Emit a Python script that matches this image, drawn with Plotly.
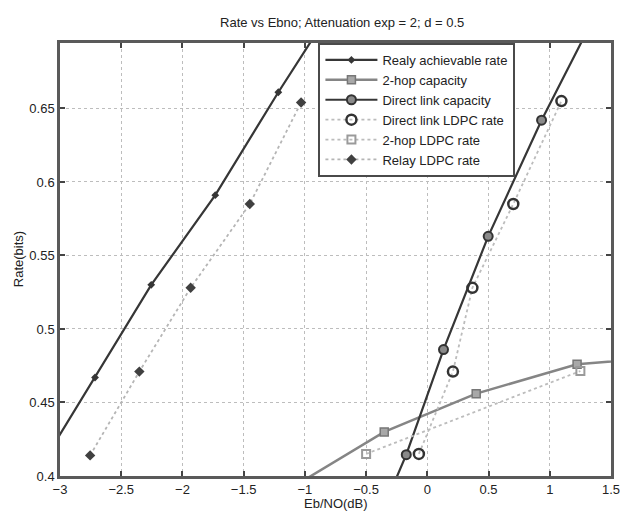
import plotly.graph_objects as go

# ---- data ----
relay_ach_x = [-3.2, -2.714, -2.255, -1.732, -1.217, -0.70]
relay_ach_y = [0.401, 0.467, 0.530, 0.591, 0.661, 0.728]

twohop_cap_x = [-1.05, -0.352, 0.399, 1.223, 2.1]
twohop_cap_y = [0.395, 0.430, 0.456, 0.476, 0.482]

direct_cap_x = [-0.40, -0.172, 0.132, 0.497, 0.933, 1.35]
direct_cap_y = [0.370, 0.4145, 0.486, 0.563, 0.642, 0.710]

direct_ldpc_x = [-0.069, 0.209, 0.368, 0.702, 1.095]
direct_ldpc_y = [0.415, 0.471, 0.528, 0.585, 0.655]

twohop_ldpc_x = [-0.50, 1.25]
twohop_ldpc_y = [0.415, 0.4714]

relay_ldpc_x = [-2.754, -2.352, -1.933, -1.450, -1.031]
relay_ldpc_y = [0.414, 0.471, 0.528, 0.585, 0.654]

x_ticks = [-3, -2.5, -2, -1.5, -1, -0.5, 0, 0.5, 1, 1.5]
x_tick_text = ["\u22123", "\u22122.5", "\u22122", "\u22121.5", "\u22121", "\u22120.5", "0", "0.5", "1", "1.5"]
y_ticks = [0.4, 0.45, 0.5, 0.55, 0.6, 0.65]
y_tick_text = ["0.4", "0.45", "0.5", "0.55", "0.6", "0.65"]

title_text = "Rate vs Ebno; Attenuation exp = 2; d = 0.5"
x_title = "Eb/NO(dB)"
y_title = "Rate(bits)"

FONT = "Liberation Sans, Arial, Helvetica"
TXT = "#222222"

fig = go.Figure()

fig.add_trace(go.Scatter(
    x=relay_ach_x, y=relay_ach_y, mode="lines+markers", name="Realy achievable rate",
    line=dict(color="#363636", width=2.2),
    marker=dict(symbol="diamond", size=6, color="#363636")))

fig.add_trace(go.Scatter(
    x=twohop_cap_x, y=twohop_cap_y, mode="lines+markers", name="2-hop capacity",
    line=dict(color="#858585", width=2.5),
    marker=dict(symbol="square", size=8, color="#a8a8a8", line=dict(color="#777777", width=1.5))))

fig.add_trace(go.Scatter(
    x=direct_cap_x, y=direct_cap_y, mode="lines+markers", name="Direct link capacity",
    line=dict(color="#363636", width=2.2),
    marker=dict(symbol="circle", size=9, color="#8a8a8a", line=dict(color="#333333", width=2))))

fig.add_trace(go.Scatter(
    x=direct_ldpc_x, y=direct_ldpc_y, mode="lines+markers", name="Direct link LDPC rate",
    line=dict(color="#bcbcbc", width=1.8, dash="dot"),
    marker=dict(symbol="circle-open", size=10, color="#333333", line=dict(width=2.5))))

fig.add_trace(go.Scatter(
    x=twohop_ldpc_x, y=twohop_ldpc_y, mode="lines+markers", name="2-hop LDPC rate",
    line=dict(color="#bcbcbc", width=1.8, dash="dot"),
    marker=dict(symbol="square-open", size=8, color="#9a9a9a", line=dict(width=2))))

fig.add_trace(go.Scatter(
    x=relay_ldpc_x, y=relay_ldpc_y, mode="lines+markers", name="Relay LDPC rate",
    line=dict(color="#b5b5b5", width=1.8, dash="dot"),
    marker=dict(symbol="diamond", size=8, color="#404040")))

axis_common = dict(
    showline=True, linecolor="#5a5a5a", linewidth=2.5, mirror="ticks",
    ticks="inside", ticklen=5, tickwidth=1.5, tickcolor="#444444",
    showgrid=True, gridcolor="#bdbdbd", griddash="dot", gridwidth=1,
    zeroline=False, tickfont=dict(family=FONT, size=13, color=TXT),
)

fig.update_xaxes(range=[-3, 1.5], tickvals=x_ticks, ticktext=x_tick_text, **axis_common)
fig.update_yaxes(range=[0.4, 0.6945], tickvals=y_ticks, ticktext=y_tick_text, **axis_common)

fig.update_layout(
    width=629, height=512,
    margin=dict(l=60, r=9, t=43, b=36),
    paper_bgcolor="white", plot_bgcolor="white",
    title=dict(text=title_text, x=0.544, xanchor="center", y=0.957, yanchor="middle",
               font=dict(family=FONT, size=13, color=TXT)),
    showlegend=True,
    legend=dict(x=0.469, y=1.0, xanchor="left", yanchor="top",
                bgcolor="white", bordercolor="#4a4a4a", borderwidth=2,
                font=dict(family=FONT, size=13, color=TXT),
                itemwidth=52, tracegroupgap=0),
    annotations=[
        dict(text=x_title, xref="paper", yref="paper", x=0.5, y=-0.0624,
             xanchor="center", yanchor="middle", showarrow=False,
             font=dict(family=FONT, size=13, color=TXT)),
        dict(text=y_title, xref="paper", yref="paper", x=-0.075, y=0.5,
             xanchor="center", yanchor="middle", showarrow=False, textangle=-90,
             font=dict(family=FONT, size=13, color=TXT)),
    ],
)

fig.write_html("out.html",
               config={"displayModeBar": False},
               post_script="document.body.style.margin='0px';document.body.style.overflow='hidden';")
